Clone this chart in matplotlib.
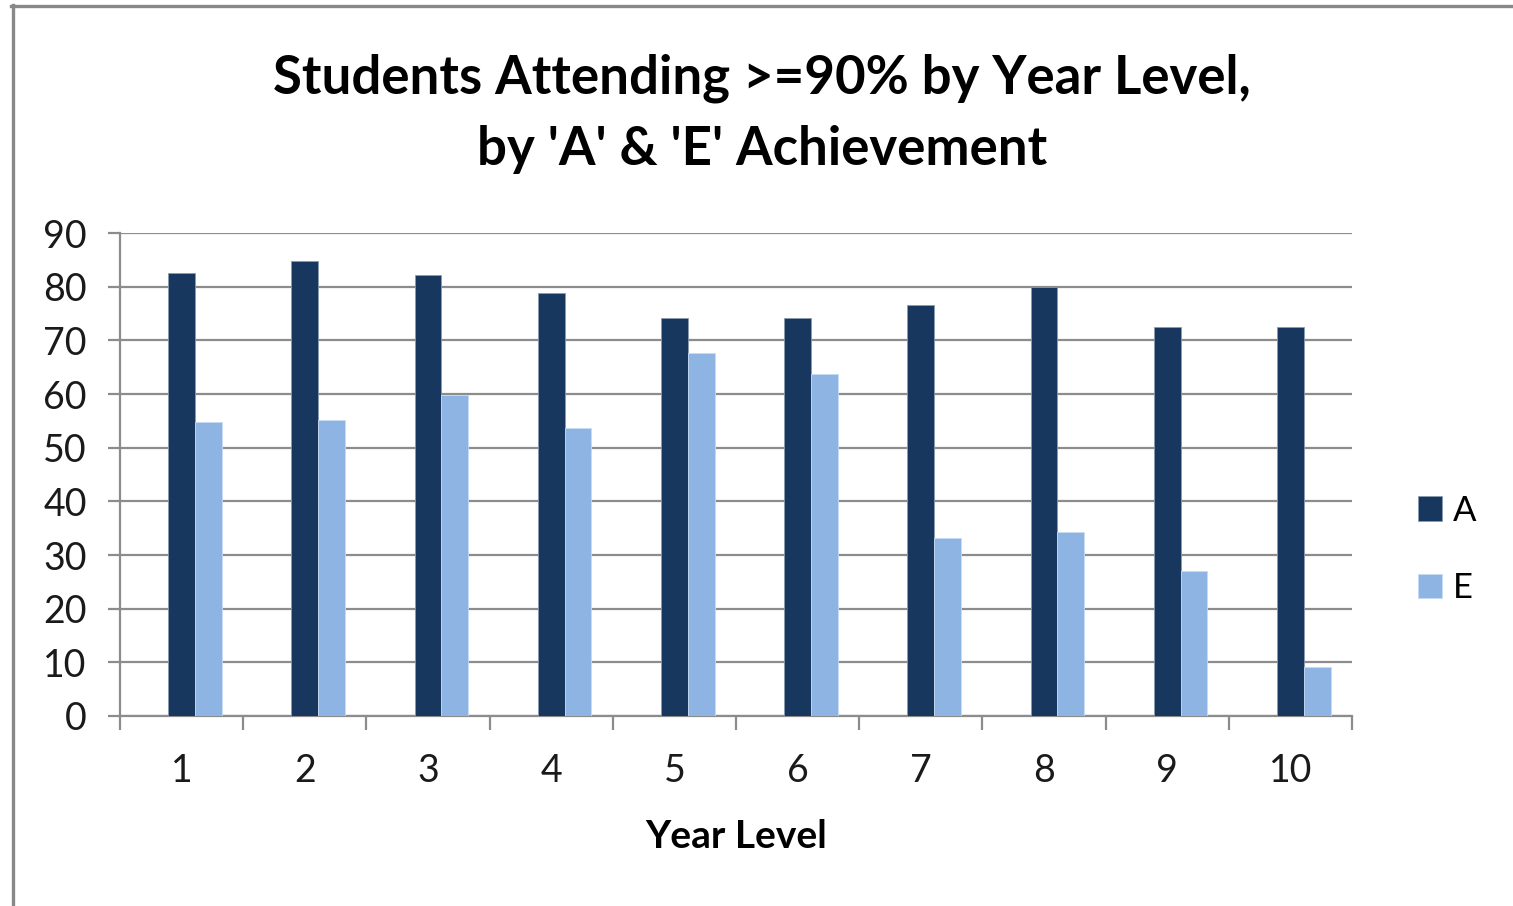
import matplotlib.pyplot as plt
from matplotlib.lines import Line2D
import numpy as np

years = ['1', '2', '3', '4', '5', '6', '7', '8', '9', '10']
a_vals = [82.5, 84.8, 82.2, 78.8, 74.2, 74.2, 76.6, 80.0, 72.4, 72.4]
e_vals = [54.8, 55.2, 59.8, 53.7, 67.6, 63.7, 33.1, 34.2, 27.1, 9.2]
y_ticks = [0, 10, 20, 30, 40, 50, 60, 70, 80, 90]
title = "Students Attending >=90% by Year Level,\nby 'A' & 'E' Achievement"

plt.rcParams['font.family'] = ['Lato', 'DejaVu Sans']

W, H = 1513, 906
fig = plt.figure(figsize=(W / 100, H / 100), dpi=100)
fig.patch.set_facecolor('white')

ax = fig.add_axes([120 / W, (H - 716) / H, 1232 / W, 483 / H])
x = np.arange(len(years))
w = 0.218
ax.bar(x, a_vals, width=w, color='#17375E', label='A', zorder=3,
       edgecolor='#8a9bb0', linewidth=0.6)
ax.bar(x + w, e_vals, width=w, color='#8EB4E3', label='E', zorder=3,
       edgecolor='#c6dbf3', linewidth=0.6)

ax.set_xlim(-0.5, len(years) - 0.5)
ax.set_ylim(0, 90)
ax.set_yticks(y_ticks)
ax.set_yticklabels([str(t) for t in y_ticks], fontsize=27)
ax.set_xticks(x)
ax.set_xticklabels(years, fontsize=27)
ax.set_xticks(np.arange(len(years) + 1) - 0.5, minor=True)

grid_c = '#8c8c8c'
ax.yaxis.grid(True, color=grid_c, linewidth=1.6, zorder=0)
ax.set_axisbelow(True)
for s in ['top', 'right']:
    ax.spines[s].set_visible(False)
for s in ['left', 'bottom']:
    ax.spines[s].set_color(grid_c)
    ax.spines[s].set_linewidth(1.6)

ax.tick_params(axis='y', which='major', length=9, width=1.6, color=grid_c,
               pad=15, labelcolor='#1a1a1a')
ax.tick_params(axis='x', which='major', length=0, pad=27, labelcolor='#1a1a1a')
ax.tick_params(axis='x', which='minor', length=10, width=1.6, color=grid_c,
               direction='out')

ax.set_xlabel('Year Level', fontsize=28, fontweight='bold', labelpad=21)

fig.text(762 / W, 1 - 114 / H, title, ha='center', va='center',
         fontsize=38, fontweight='bold', linespacing=1.55)

leg = ax.legend(loc='center left', bbox_to_anchor=(1.0536, 0.345), frameon=False,
                fontsize=25, handlelength=0.7, handleheight=0.7,
                handletextpad=0.3, labelspacing=1.3, borderpad=0,
                borderaxespad=0)

# outer chart frame (left and top edges)
fig.add_artist(Line2D([12.5 / W, 12.5 / W], [0, 1 - 5 / H], transform=fig.transFigure,
                      color='#888888', linewidth=2.4))
fig.add_artist(Line2D([11 / W, 1], [1 - 5.5 / H, 1 - 5.5 / H], transform=fig.transFigure,
                      color='#888888', linewidth=2.4))

fig.savefig('out.png', dpi=100, facecolor='white')
